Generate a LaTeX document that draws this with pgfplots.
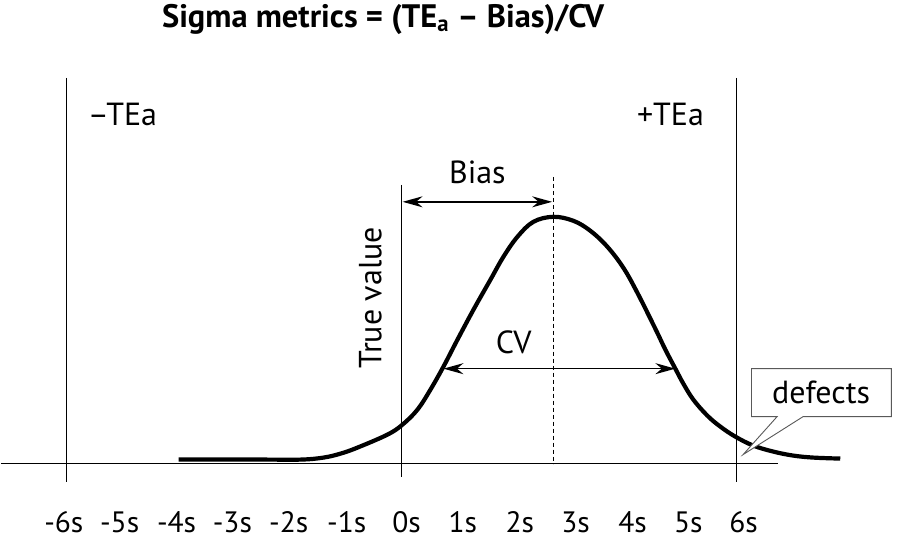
\documentclass[border=0pt]{standalone}
\usepackage{pgfplots}
\pgfplotsset{compat=1.18}
\usepackage{fontspec}
\setmainfont{PT Sans}
\usetikzlibrary{arrows.meta}
\begin{document}
\begin{tikzpicture}
\begin{axis}[
  scale only axis, width=897pt, height=547pt,
  xmin=-7.18, xmax=8.88, ymin=-0.83, ymax=4.64,
  hide axis, clip=false,
]
% invisible frame
\path (rel axis cs:0,0) rectangle (rel axis cs:1,1);
% baseline
\addplot[black, line width=1.6pt] coordinates {(-7.18,0) (6.75,0)};
% vertical lines
\addplot[black, line width=1.4pt] coordinates {(-6,3.86) (-6,-0.18)};
\addplot[black, line width=1.4pt] coordinates {(6,3.86) (6,-0.18)};
\addplot[black, line width=1.4pt] coordinates {(0,2.79) (0,-0.13)};
% dotted mean line
\addplot[black, line width=1.4pt, dash pattern=on 4pt off 3pt] coordinates {(2.722,2.87) (2.722,0)};
% curve
\addplot[black, line width=4.2pt, smooth, tension=0.6] coordinates {
(-3.994,0.04) (-2.5,0.04) (-1.80,0.04) (-1.397,0.06) (-1.09,0.10) (-0.788,0.16) (-0.251,0.29)
(0.018,0.39) (0.287,0.54) (0.519,0.74) (0.752,0.97) (1.003,1.24) (1.290,1.54)
(1.594,1.84) (1.827,2.07) (2.078,2.27) (2.364,2.42) (2.722,2.47)
(3.081,2.43) (3.385,2.33) (3.690,2.17) (3.976,1.96) (4.227,1.71) (4.549,1.35)
(4.729,1.14) (4.908,0.95) (5.051,0.80) (5.230,0.64) (5.481,0.48) (5.714,0.37)
(5.982,0.27) (6.305,0.18) (6.663,0.12) (7.021,0.08) (7.380,0.06) (7.863,0.05)};
% arrows
\addplot[black, line width=1.6pt, {Stealth[length=20pt,width=11pt]}-{Stealth[length=20pt,width=11pt]}] coordinates {(0.02,2.62) (2.70,2.62)};
\addplot[black, line width=1.6pt, {Stealth[length=20pt,width=11pt]}-{Stealth[length=20pt,width=11pt]}] coordinates {(0.752,0.95) (4.908,0.95)};
% callout
\draw[gray!70!black, line width=0.9pt, fill=white]
  (axis cs:6.272,0.95) -- (axis cs:8.78,0.95) -- (axis cs:8.78,0.47) -- (axis cs:7.197,0.47)
  -- (axis cs:6.122,0.09) -- (axis cs:6.731,0.47) -- (axis cs:6.272,0.47) -- cycle;
\node[font=\fontsize{32}{36}\selectfont] at (axis cs:7.52,0.71) {defects};
% labels
\node[font=\fontsize{32}{36}\selectfont] at (axis cs:1.36,2.91) {Bias};
\node[font=\fontsize{32}{36}\selectfont] at (axis cs:2.01,1.21) {CV};
\node[font=\fontsize{32}{36}\selectfont, rotate=90] at (axis cs:-0.555,1.66) {True value};
\node[font=\fontsize{32}{36}\selectfont] at (axis cs:-5.0,3.49) {–TEa};
\node[font=\fontsize{32}{36}\selectfont] at (axis cs:4.82,3.49) {+TEa};
\node[font=\bfseries\fontsize{32.5}{38}\selectfont] at (axis cs:-0.33,4.44) {Sigma metrics = (TE\textsubscript{a} – Bias)/CV};
% tick labels
\node[font=\fontsize{29.5}{34}\selectfont] at (axis cs:-6.05,-0.59) {-6s};
\node[font=\fontsize{29.5}{34}\selectfont] at (axis cs:-5.05,-0.59) {-5s};
\node[font=\fontsize{29.5}{34}\selectfont] at (axis cs:-4.03,-0.59) {-4s};
\node[font=\fontsize{29.5}{34}\selectfont] at (axis cs:-3.03,-0.59) {-3s};
\node[font=\fontsize{29.5}{34}\selectfont] at (axis cs:-2.02,-0.59) {-2s};
\node[font=\fontsize{29.5}{34}\selectfont] at (axis cs:-0.98,-0.59) {-1s};
\node[font=\fontsize{29.5}{34}\selectfont] at (axis cs:0.09,-0.59) {0s};
\node[font=\fontsize{29.5}{34}\selectfont] at (axis cs:1.10,-0.59) {1s};
\node[font=\fontsize{29.5}{34}\selectfont] at (axis cs:2.12,-0.59) {2s};
\node[font=\fontsize{29.5}{34}\selectfont] at (axis cs:3.12,-0.59) {3s};
\node[font=\fontsize{29.5}{34}\selectfont] at (axis cs:4.14,-0.59) {4s};
\node[font=\fontsize{29.5}{34}\selectfont] at (axis cs:5.14,-0.59) {5s};
\node[font=\fontsize{29.5}{34}\selectfont] at (axis cs:6.13,-0.59) {6s};
\end{axis}
\end{tikzpicture}
\end{document}
